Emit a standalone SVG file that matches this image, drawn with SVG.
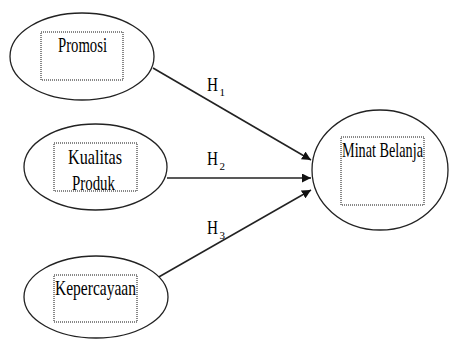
<svg xmlns="http://www.w3.org/2000/svg" width="450" height="340" viewBox="0 0 450 340">
<style>
.node ellipse{fill:#fff;stroke:#222;stroke-width:1.3}
.box{fill:none;stroke:#111;stroke-width:1;stroke-dasharray:1 1}
text{font-family:"Liberation Serif","Times New Roman",serif;fill:#000}
.lbl{font-size:21px}
.h{font-size:19px}
.sub{font-size:11px}
.conn line{stroke:#222;stroke-width:1.6}
</style>
<defs>
<marker id="arr" viewBox="0 0 10 10" refX="10" refY="5" markerWidth="9" markerHeight="9" markerUnits="userSpaceOnUse" orient="auto">
<path d="M0,0 L10,5 L0,10 z" fill="#111"/>
</marker>
</defs>
<rect width="450" height="340" fill="#fff"/>
<g class="conn">
<line x1="153" y1="68" x2="311" y2="160" marker-end="url(#arr)"/>
<line x1="167" y1="178" x2="311" y2="178" marker-end="url(#arr)"/>
<line x1="157" y1="278" x2="311" y2="190" marker-end="url(#arr)"/>
<text class="h" x="207" y="91" textLength="11" lengthAdjust="spacingAndGlyphs">H</text><text class="sub" x="219.5" y="96">1</text>
<text class="h" x="207" y="165" textLength="11" lengthAdjust="spacingAndGlyphs">H</text><text class="sub" x="219.5" y="170">2</text>
<text class="h" x="207" y="234" textLength="11" lengthAdjust="spacingAndGlyphs">H</text><text class="sub" x="219.5" y="239">3</text>
</g>
<g id="promosi" class="node">
<ellipse cx="82" cy="56.5" rx="72" ry="43.5"/>
<rect class="box" x="41" y="32" width="82" height="48"/>
<text class="lbl" x="58" y="52" textLength="49" lengthAdjust="spacingAndGlyphs">Promosi</text>
</g>
<g id="kualitas" class="node">
<ellipse cx="95.5" cy="167" rx="71.5" ry="43"/>
<rect class="box" x="54" y="143" width="83" height="48"/>
<text class="lbl" x="68" y="164" textLength="54" lengthAdjust="spacingAndGlyphs">Kualitas</text>
<text class="lbl" x="72" y="190" textLength="43" lengthAdjust="spacingAndGlyphs">Produk</text>
</g>
<g id="kepercayaan" class="node">
<ellipse cx="96" cy="297" rx="72" ry="41"/>
<rect class="box" x="54" y="275" width="83" height="47"/>
<text class="lbl" x="55" y="295" textLength="81" lengthAdjust="spacingAndGlyphs">Kepercayaan</text>
</g>
<g id="minat" class="node">
<ellipse cx="380" cy="170" rx="68" ry="60"/>
<rect class="box" x="341" y="137" width="83" height="68"/>
<text class="lbl" x="342" y="157" textLength="81" lengthAdjust="spacingAndGlyphs">Minat Belanja</text>
</g>
</svg>
